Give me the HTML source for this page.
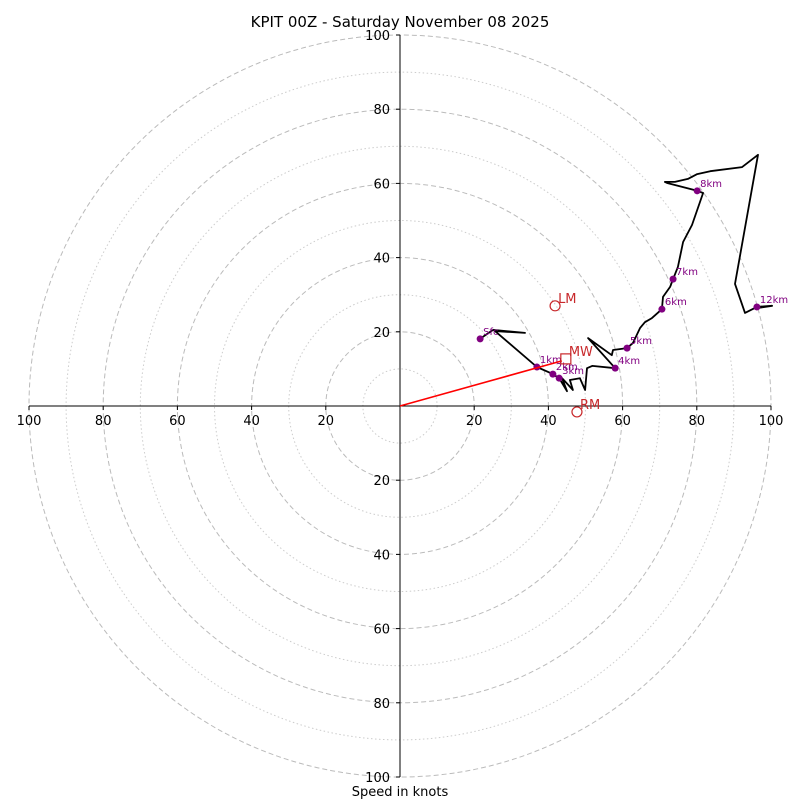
<!DOCTYPE html>
<html><head><meta charset="utf-8"><style>
html,body{margin:0;padding:0;background:#fff}
svg{display:block;font-family:"DejaVu Sans","Liberation Sans",sans-serif}
</style></head><body>
<svg id="chart" width="800" height="800" viewBox="0 0 800 800">
<text x="400" y="27" text-anchor="middle" font-size="15">KPIT 00Z - Saturday November 08 2025</text>
<text x="400" y="796" text-anchor="middle" font-size="13">Speed in knots</text>
<g id="rings"></g><g id="axes"></g><g id="trace"></g><g id="markers"></g><g id="storm"></g>
</svg>
<script>
const ringValues = [10,20,30,40,50,60,70,80,90,100];
const tickValues = [20,40,60,80,100];
const traceU = [21.6,25.1,33.7,25.6,36.9,41.2,42.9,45.0,43.7,46.6,45.8,48.5,49.9,50.4,51.8,58.0,50.7,57.1,57.4,61.2,62.8,64.7,66.0,67.9,70.6,70.9,72.8,73.6,74.9,76.3,78.7,81.7,80.1,72.0,71.4,74.1,77.6,80.1,83.6,92.2,96.5,90.3,93.0,96.2,100.3,96.2];
const traceV = [18.1,20.5,19.7,20.2,10.5,8.6,7.5,4.0,7.5,4.3,7.0,7.5,4.3,10.2,10.8,10.2,18.3,13.7,15.1,15.6,17.0,21.0,22.6,23.7,26.1,29.4,32.1,34.2,37.5,44.2,48.8,57.4,58.0,60.1,60.4,60.4,61.2,62.5,63.3,64.4,67.7,32.9,25.1,26.7,27.0,26.4];
const markerLabels = ["Sfc","1km","2km","3km","4km","5km","6km","7km","8km","12km"];
const markerU = [21.6,36.9,41.2,42.9,58.0,61.2,70.6,73.6,80.1,96.2];
const markerV = [18.1,10.5,8.6,7.5,10.2,15.6,26.1,34.2,58.0,26.7];
const stormLabels = ["LM","MW","RM"];
const stormU = [41.8,44.7,47.7];
const stormV = [27.0,12.7,-1.6];

const NS="http://www.w3.org/2000/svg";
const cx=400, cy=406, k=3.71;
const X=u=>cx+u*k, Y=v=>cy-v*k;
function mk(tag, parent, attrs){const e=document.createElementNS(NS,tag);for(const a in attrs)e.setAttribute(a,attrs[a]);document.getElementById(parent).appendChild(e);return e;}

ringValues.forEach(r=>{
  const c=mk('circle','rings',{cx:cx,cy:cy,r:r*k,fill:'none',stroke:r%20===0?'#bbb':'#ccc','stroke-width':1,'stroke-dasharray':r%20===0?'5,3':'1.5,2.5'});
  
  
});
let ax=mk('line','axes',{x1:X(-100),y1:cy,x2:X(100),y2:cy,stroke:'#000','stroke-width':1});


ax=mk('line','axes',{x1:cx,y1:Y(100),x2:cx,y2:Y(-100),stroke:'#000','stroke-width':1});


tickValues.forEach(t=>{
  [t,-t].forEach(s=>{
    const tx=mk('text','axes',{x:X(s),y:cy+19,'text-anchor':'middle','font-size':13});
    tx.textContent=t;
    
    
    mk('line','axes',{x1:X(s),y1:cy,x2:X(s),y2:cy+4,stroke:'#000'});
    const ty=mk('text','axes',{x:cx-10,y:Y(s)+5,'text-anchor':'end','font-size':13});
    ty.textContent=t;
    
    
    mk('line','axes',{x1:cx-4,y1:Y(s),x2:cx,y2:Y(s),stroke:'#000'});
  });
});
const pts=traceU.map((u,i)=>X(u).toFixed(1)+','+Y(traceV[i]).toFixed(1)).join(' ');
const pl=mk('polyline','trace',{points:pts,fill:'none',stroke:'#000','stroke-width':1.8,'stroke-linejoin':'round'});


markerLabels.forEach((l,i)=>{
  const c=mk('circle','markers',{cx:X(markerU[i]),cy:Y(markerV[i]),r:3.5,fill:'#800080'});
  
  
  const t=mk('text','markers',{x:X(markerU[i])+3,y:Y(markerV[i])-4,'font-size':10,fill:'#800080'});
  t.textContent=l;
  
  
});
// mean wind arrow
const ar=mk('line','storm',{x1:cx,y1:cy,x2:X(stormU[1])-4,y2:Y(stormV[1])+2,stroke:'#f00','stroke-width':1.6});


stormLabels.forEach((l,i)=>{
  const x=X(stormU[i]), y=Y(stormV[i]);
  let m;
  if(l==='MW') m=mk('rect','storm',{x:x-5,y:y-5,width:10,height:10,fill:'none',stroke:'#c8282b','stroke-width':1.2});
  else m=mk('circle','storm',{cx:x,cy:y,r:5,fill:'none',stroke:'#c8282b','stroke-width':1.2});
  
  
  const t=mk('text','storm',{x:x+3,y:y-3,'font-size':13,fill:'#c8282b'});
  t.textContent=l;
  
  
});
</script>
</body></html>
